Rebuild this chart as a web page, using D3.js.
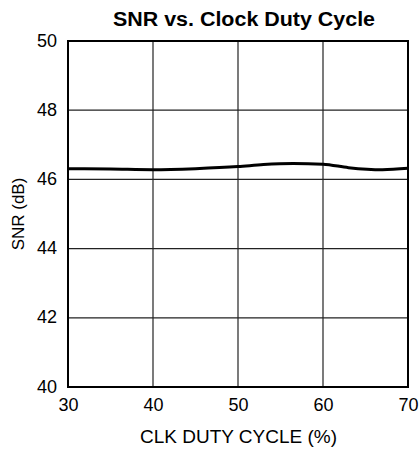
<!DOCTYPE html>
<html><head><meta charset="utf-8">
<script src="https://cdn.jsdelivr.net/npm/d3@7"></script>
<style>body{margin:0;background:#fff}svg{display:block}text{font-family:"Liberation Sans",Arial,sans-serif;fill:#000}</style>
</head><body>
<script>
const title = "SNR vs. Clock Duty Cycle";
const xLabel = "CLK DUTY CYCLE (%)";
const yLabel = "SNR (dB)";
const xTicks = [30, 40, 50, 60, 70];
const yTicks = [40, 42, 44, 46, 48, 50];
const duty = [30, 35, 40, 45, 50, 53, 56.5, 60, 63, 67, 70];
const snr  = [46.31, 46.30, 46.28, 46.31, 46.37, 46.43, 46.46, 46.44, 46.34, 46.28, 46.32];

const W = 419, H = 450;
const m = {l: 68, r: 11, t: 41, b: 63};
const svg = d3.select("body").append("svg").attr("width", W).attr("height", H);
const x = d3.scaleLinear().domain([30, 70]).range([m.l, W - m.r]);
const y = d3.scaleLinear().domain([40, 50]).range([H - m.b, m.t]);

// grid
svg.append("g").selectAll("line").data(xTicks.slice(1, -1)).join("line")
  .attr("x1", d => x(d)).attr("x2", d => x(d)).attr("y1", y(40)).attr("y2", y(50))
  .attr("stroke", "#222").attr("stroke-width", 1.2);
svg.append("g").selectAll("line").data(yTicks.slice(1, -1)).join("line")
  .attr("y1", d => y(d)).attr("y2", d => y(d)).attr("x1", x(30)).attr("x2", x(70))
  .attr("stroke", "#222").attr("stroke-width", 1.2);

// frame
svg.append("rect").attr("x", x(30)).attr("y", y(50)).attr("width", x(70) - x(30)).attr("height", y(40) - y(50))
  .attr("fill", "none").attr("stroke", "#000").attr("stroke-width", 2);

// axes labels via d3 axes (no lines)
const xa = svg.append("g").attr("transform", `translate(0,${y(40)})`)
  .call(d3.axisBottom(x).tickValues(xTicks).tickSize(0).tickPadding(11));
xa.select(".domain").remove();
xa.selectAll("text").attr("font-size", 18).attr("font-family", "Liberation Sans, Arial, sans-serif").attr("fill", "#000");
const ya = svg.append("g").attr("transform", `translate(${x(30)},0)`)
  .call(d3.axisLeft(y).tickValues(yTicks).tickSize(0).tickPadding(11));
ya.select(".domain").remove();
ya.selectAll("text").attr("font-size", 18).attr("dy", "0.28em").attr("font-family", "Liberation Sans, Arial, sans-serif").attr("fill", "#000");

// line
svg.append("path").datum(duty.map((d, i) => [d, snr[i]]))
  .attr("d", d3.line().x(d => x(d[0])).y(d => y(d[1])).curve(d3.curveMonotoneX))
  .attr("fill", "none").attr("stroke", "#000").attr("stroke-width", 3);

svg.append("text").attr("x", 244).attr("y", 26).attr("text-anchor", "middle")
  .attr("font-size", 20).attr("font-weight", "bold")
  .attr("textLength", 262).attr("lengthAdjust", "spacingAndGlyphs").text(title);
svg.append("text").attr("x", 238.5).attr("y", 443).attr("text-anchor", "middle")
  .attr("font-size", 18).attr("textLength", 197).attr("lengthAdjust", "spacingAndGlyphs").text(xLabel);
svg.append("text").attr("transform", `translate(24,${y(45)}) rotate(-90)`).attr("text-anchor", "middle")
  .attr("font-size", 17).text(yLabel);
</script>
</body></html>
